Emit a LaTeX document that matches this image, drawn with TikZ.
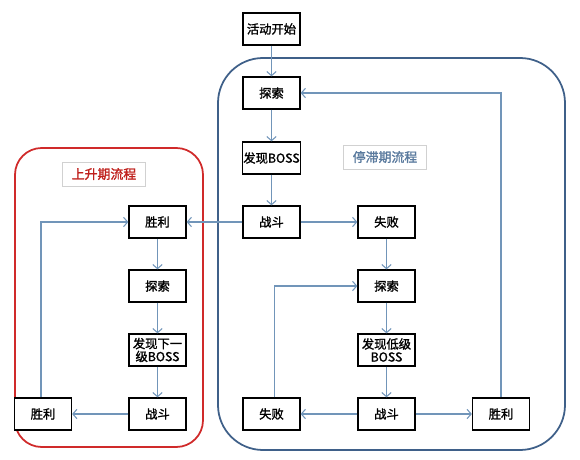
\documentclass[tikz,border=0pt]{standalone}
\usepackage{fontspec}
\newfontfamily\cjk[AutoFakeBold=1.5]{Noto Sans CJK SC}
\usetikzlibrary{arrows.meta}

\definecolor{flowline}{HTML}{7195B9}
\definecolor{upred}{HTML}{D02A2A}
\definecolor{upredtext}{HTML}{C0201C}
\definecolor{stillblue}{HTML}{3F6089}
\definecolor{stilltext}{HTML}{5A7A9E}

\tikzset{
  box/.style={draw, line width=1.1pt, fill=white, minimum width=1.71cm,
    minimum height=0.96cm, inner sep=1pt, align=center,
    font=\cjk\bfseries\fontsize{10.5}{11}\selectfont},
  flow/.style={draw=flowline, line width=0.9pt,
    -{Straight Barb[length=3.5pt,width=8pt]}},
  titlebox/.style={draw=black!18, fill=white, minimum width=2.5cm,
    minimum height=0.72cm, font=\cjk\bfseries\fontsize{11}{12}\selectfont}
}

\begin{document}
\begin{tikzpicture}[x=0.03cm,y=-0.03cm]

  \useasboundingbox (0,0) rectangle (580,460);

  % frames
  \draw [upred, line width=1.5pt, rounded corners=0.8cm] (15,148) rectangle (203,447);
  \draw [stillblue, line width=1.5pt, rounded corners=1.35cm] (218,58) rectangle (565,450);
  \node [titlebox, text=upredtext] (uptitle) at (104,174) {上升期流程};
  \node [titlebox, text=stilltext] (stilltitle) at (385,157) {停滞期流程};

  % nodes
  \node [box] (start) at (271.5,29) {活动开始};
  \node [box] (explA) at (271.5,93) {探索};
  \node [box] (findA) at (271.5,158) {发现BOSS};
  \node [box] (fightA) at (271.5,222) {战斗};
  \node [box] (loseA) at (386.5,222) {失败};
  \node [box] (explB) at (386.5,286) {探索};
  \node [box] (findB) at (386.5,350) {发现低级\\BOSS};
  \node [box] (fightB) at (386.5,414) {战斗};
  \node [box] (loseB) at (271.5,414) {失败};
  \node [box] (winB) at (501,414) {胜利};
  \node [box] (winC) at (157.5,222) {胜利};
  \node [box] (explC) at (157.5,286) {探索};
  \node [box] (findC) at (157.5,350) {发现下一\\级BOSS};
  \node [box] (fightC) at (157.5,414) {战斗};
  \node [box] (winD) at (43,414) {胜利};

  % arrows
  \draw [flow] (start) -- (explA);
  \draw [flow] (explA) -- (findA);
  \draw [flow] (findA) -- (fightA);
  \draw [flow] (fightA) -- (loseA);
  \draw [flow] (fightA) -- (winC);
  \draw [flow] (loseA) -- (explB);
  \draw [flow] (explB) -- (findB);
  \draw [flow] (findB) -- (fightB);
  \draw [flow] (fightB) -- (loseB);
  \draw [flow] (fightB) -- (winB);
  \draw [flow] ([xshift=0.1cm]loseB.north) |- (explB);
  \draw [flow] (winB.north) |- (explA);
  \draw [flow] (winC) -- (explC);
  \draw [flow] (explC) -- (findC);
  \draw [flow] (findC) -- (fightC);
  \draw [flow] (fightC) -- (winD);
  \draw [flow] ([xshift=-0.06cm]winD.north) |- (winC);

\end{tikzpicture}
\end{document}
